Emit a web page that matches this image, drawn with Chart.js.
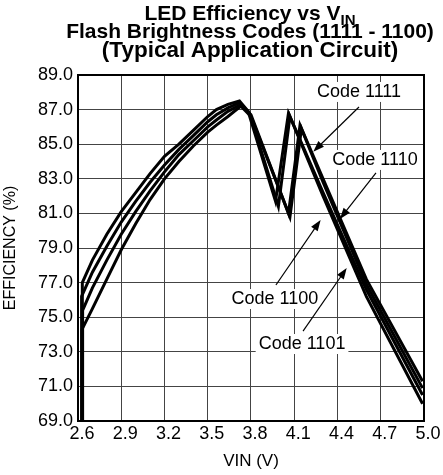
<!DOCTYPE html>
<html lang="en">
<head>
<meta charset="UTF-8">
<title>LED Efficiency vs VIN</title>
<script src="https://cdn.jsdelivr.net/npm/chart.js"></script>
<style>
  body { margin: 0; background: #fff; }
  #wrap { position: relative; width: 443px; height: 475px; overflow: hidden; }
  #effChart { position: absolute; left: 0; top: 0; }
  #title { position: absolute; left: 50px; top: 4px; width: 400px; text-align: center; white-space: nowrap;
           font: bold 21px "Liberation Sans", Arial, sans-serif; line-height: 18.3px; color: #000; }
  #title sub { font-size: 15px; vertical-align: -5px; line-height: 0; }
  #title .l3 { font-size: 22.5px; }
</style>
</head>
<body>
<div id="wrap">
  <canvas id="effChart" width="443" height="475"></canvas>
  <div id="title">LED Efficiency vs V<sub>IN</sub><br>Flash Brightness Codes (1111 - 1100)<br><span class="l3">(Typical Application Circuit)</span></div>
</div>
<script>
// axis ticks
const xTicks = [2.6, 2.9, 3.2, 3.5, 3.8, 4.1, 4.4, 4.7, 5.0];
const yTicks = [69, 71, 73, 75, 77, 79, 81, 83, 85, 87, 89];

// VIN (V) / efficiency (%), one pair per code
const vin1111 = [2.63, 2.63, 2.7, 2.8, 2.9, 3.0, 3.1, 3.2, 3.3, 3.4, 3.5, 3.56, 3.64, 3.72, 3.78, 3.97, 4.06, 4.3, 4.6, 4.99];
const eff1111 = [69.0, 77.0, 78.3, 79.8, 81.1, 82.2, 83.3, 84.3, 85.0, 85.8, 86.6, 87.0, 87.3, 87.5, 86.9, 81.7, 86.8, 82.2, 76.6, 70.5];

const vin1110 = [2.625, 2.625, 2.7, 2.8, 2.9, 3.0, 3.1, 3.2, 3.3, 3.4, 3.5, 3.56, 3.64, 3.72, 3.79, 3.99, 4.07, 4.3, 4.6, 4.99];
const eff1110 = [69.0, 76.2, 77.6, 79.1, 80.5, 81.7, 82.8, 83.8, 84.7, 85.5, 86.3, 86.7, 87.1, 87.4, 86.8, 81.4, 86.6, 82.0, 76.2, 70.0];

const vin1101 = [2.632, 2.632, 2.7, 2.8, 2.9, 3.0, 3.1, 3.2, 3.3, 3.4, 3.5, 3.56, 3.64, 3.73, 3.80, 4.06, 4.14, 4.3, 4.6, 4.99];
const eff1101 = [69.0, 75.4, 76.7, 78.3, 79.8, 81.1, 82.3, 83.4, 84.4, 85.2, 86.0, 86.4, 86.9, 87.3, 86.7, 81.0, 86.1, 83.0, 77.2, 71.3];

const vin1100 = [2.628, 2.628, 2.7, 2.8, 2.9, 3.0, 3.1, 3.2, 3.3, 3.4, 3.5, 3.56, 3.64, 3.73, 3.80, 4.07, 4.15, 4.3, 4.6, 4.99];
const eff1100 = [69.0, 74.3, 75.5, 77.2, 78.9, 80.4, 81.8, 83.0, 84.0, 84.9, 85.7, 86.1, 86.6, 87.2, 86.6, 80.8, 85.9, 82.8, 76.9, 70.9];

// callout labels and where they sit (data units)
const calloutText = ['Code 1111', 'Code 1110', 'Code 1100', 'Code 1101'];
const calloutVin  = [4.549, 4.66, 3.966, 4.154];
const calloutEff  = [88.02, 84.09, 76.05, 73.45];
const arrowFromVin = [4.549, 4.667, 3.973, 4.161];
const arrowFromEff = [87.15, 83.34, 76.86, 74.2];
const arrowToVin   = [4.232, 4.417, 4.283, 4.464];
const arrowToEff   = [84.57, 80.68, 80.62, 77.84];

function pts(vs, es) {
  return vs.map((v, i) => ({ x: v, y: es[i] }));
}

const FONT = '"Liberation Sans", Arial, sans-serif';

// frame round the plot + the code callouts with arrows
const calloutPlugin = {
  id: 'callouts',
  afterDatasetsDraw(chart) {
    const { ctx, chartArea: a } = chart;
    const x = chart.scales.x, y = chart.scales.y;
    ctx.save();
    ctx.strokeStyle = '#000';
    ctx.lineWidth = 2;
    ctx.strokeRect(a.left, a.top, a.right - a.left, a.bottom - a.top);

    ctx.font = '18px ' + FONT;
    ctx.textAlign = 'center';
    ctx.textBaseline = 'middle';
    calloutText.forEach((txt, i) => {
      const tx = x.getPixelForValue(calloutVin[i]);
      const ty = y.getPixelForValue(calloutEff[i]);
      const w = ctx.measureText(txt).width;
      ctx.fillStyle = '#fff';
      ctx.fillRect(tx - w / 2 - 3, ty - 10, w + 6, 20);
      ctx.fillStyle = '#000';
      ctx.fillText(txt, tx, ty);

      const x1 = x.getPixelForValue(arrowFromVin[i]), y1 = y.getPixelForValue(arrowFromEff[i]);
      const x2 = x.getPixelForValue(arrowToVin[i]), y2 = y.getPixelForValue(arrowToEff[i]);
      const ang = Math.atan2(y2 - y1, x2 - x1);
      ctx.lineWidth = 1.2;
      ctx.beginPath();
      ctx.moveTo(x1, y1);
      ctx.lineTo(x2 - 6 * Math.cos(ang), y2 - 6 * Math.sin(ang));
      ctx.stroke();
      ctx.beginPath();
      ctx.moveTo(x2, y2);
      ctx.lineTo(x2 - 11 * Math.cos(ang) + 4 * Math.sin(ang), y2 - 11 * Math.sin(ang) - 4 * Math.cos(ang));
      ctx.lineTo(x2 - 11 * Math.cos(ang) - 4 * Math.sin(ang), y2 - 11 * Math.sin(ang) + 4 * Math.cos(ang));
      ctx.closePath();
      ctx.fill();
    });
    ctx.restore();
  }
};

const lineStyle = { borderColor: '#000', backgroundColor: '#000', borderWidth: 3, pointRadius: 0, tension: 0, fill: false };

new Chart(document.getElementById('effChart').getContext('2d'), {
  type: 'line',
  data: {
    datasets: [
      Object.assign({ label: 'Code 1111', data: pts(vin1111, eff1111) }, lineStyle),
      Object.assign({ label: 'Code 1110', data: pts(vin1110, eff1110) }, lineStyle),
      Object.assign({ label: 'Code 1101', data: pts(vin1101, eff1101) }, lineStyle),
      Object.assign({ label: 'Code 1100', data: pts(vin1100, eff1100) }, lineStyle)
    ]
  },
  options: {
    responsive: false,
    animation: false,
    devicePixelRatio: 1,
    layout: { padding: { top: 75, right: 19, left: 0, bottom: 0 } },
    plugins: { legend: { display: false }, tooltip: { enabled: false } },
    scales: {
      x: {
        type: 'linear',
        min: 2.6,
        max: 5.0,
        afterBuildTicks: s => { s.ticks = xTicks.map(v => ({ value: v })); },
        afterFit: s => { s.height = 54; },
        ticks: { color: '#000', font: { family: FONT, size: 18 }, padding: 2, labelOffset: 4,
                 maxRotation: 0, autoSkip: false, callback: v => Number(v).toFixed(1) },
        grid: { color: '#444', lineWidth: 1, drawTicks: false },
        border: { color: '#000', width: 2 },
        title: { display: true, text: 'VIN (V)', color: '#000', font: { family: FONT, size: 17 }, padding: { top: 0, bottom: 3 } }
      },
      y: {
        min: 69,
        max: 89,
        afterBuildTicks: s => { s.ticks = yTicks.map(v => ({ value: v })); },
        afterFit: s => { s.width = 78; },
        ticks: { color: '#000', font: { family: FONT, size: 18 }, padding: 5,
                 autoSkip: false, callback: v => Number(v).toFixed(1) },
        grid: { color: '#444', lineWidth: 1, drawTicks: false },
        border: { color: '#000', width: 2 },
        title: { display: true, text: 'EFFICIENCY (%)', color: '#000', font: { family: FONT, size: 16 }, padding: { top: 1, bottom: 0 } }
      }
    }
  },
  plugins: [calloutPlugin]
});
</script>
</body>
</html>
